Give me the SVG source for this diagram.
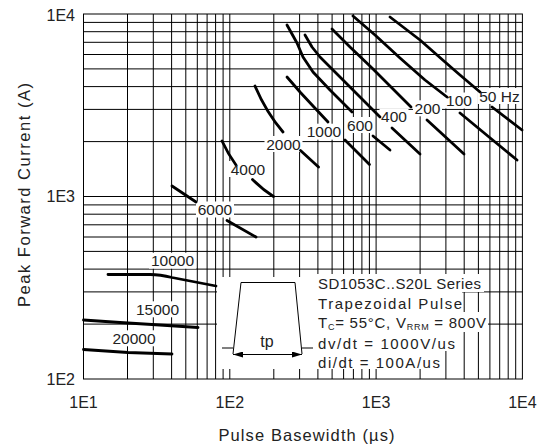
<svg xmlns="http://www.w3.org/2000/svg" width="548" height="448" viewBox="0 0 548 448">
<defs>
<style>
.grid{stroke:#000;stroke-width:1;fill:none}
.curve{stroke:#000;stroke-width:2.8;fill:none;stroke-linecap:round;stroke-linejoin:round}
.bg{fill:#fff;stroke:none}
.lbl{font-family:"Liberation Sans",Arial,sans-serif;font-size:15.5px;fill:#222;text-anchor:middle}
.tick{font-family:"Liberation Sans",Arial,sans-serif;font-size:16px;fill:#222}
.title{font-family:"Liberation Sans",Arial,sans-serif;font-size:16.5px;fill:#222;text-anchor:middle}
.note{font-family:"Liberation Sans",Arial,sans-serif;font-size:15px;fill:#222}
.thin{stroke:#000;stroke-width:1;fill:none}
</style>
<marker id="ah" viewBox="0 0 10 6" refX="10" refY="3" markerWidth="10" markerHeight="6" markerUnits="userSpaceOnUse" orient="auto-start-reverse">
<path d="M0,0 L10,3 L0,6 Z" fill="#000"/>
</marker>
</defs>
<rect x="0" y="0" width="548" height="448" fill="#fff"/>
<g id="grid" class="grid">
<path d="M127.5 14V379M153.3 14V379M171.6 14V379M185.8 14V379M197.3 14V379M207.1 14V379M215.6 14V379M223.1 14V379M229.8 14V379M273.8 14V379M299.6 14V379M317.9 14V379M332.1 14V379M343.6 14V379M353.4 14V379M361.9 14V379M369.4 14V379M376.1 14V379M420.1 14V379M445.9 14V379M464.2 14V379M478.4 14V379M489.9 14V379M499.7 14V379M508.2 14V379M515.7 14V379"/>
<path d="M83.5 324.1H522.4M83.5 291.9H522.4M83.5 269.1H522.4M83.5 251.4H522.4M83.5 237H522.4M83.5 224.8H522.4M83.5 214.2H522.4M83.5 204.9H522.4M83.5 196.5H522.4M83.5 141.6H522.4M83.5 109.4H522.4M83.5 86.6H522.4M83.5 68.9H522.4M83.5 54.5H522.4M83.5 42.3H522.4M83.5 31.7H522.4M83.5 22.4H522.4"/>
</g>
<g id="backgrounds" class="bg">
<rect x="477.5" y="88" width="44.5" height="16"/>
<rect x="444.5" y="92.5" width="29" height="16"/>
<rect x="413" y="100.3" width="29" height="16"/>
<rect x="379.5" y="108.7" width="29" height="16"/>
<rect x="345.5" y="117" width="29" height="16"/>
<rect x="305" y="123.7" width="38" height="16"/>
<rect x="264.5" y="136" width="38" height="16"/>
<rect x="229" y="161" width="38" height="16"/>
<rect x="196" y="201.5" width="38" height="16"/>
<rect x="149" y="252.7" width="47" height="16"/>
<rect x="134" y="301.3" width="47" height="16"/>
<rect x="110.5" y="330.3" width="47" height="16"/>
<rect x="217" y="277" width="100" height="92"/>
<rect x="316" y="274" width="168" height="18"/>
<rect x="316" y="292" width="146" height="20"/>
<rect x="316" y="312" width="172" height="20"/>
<rect x="316" y="332" width="141" height="19"/>
<rect x="316" y="351" width="126" height="18"/>
</g>
<rect id="frame" x="83.5" y="14" width="438.9" height="365" class="grid"/>
<g id="curves" class="curve">
<path id="c50" d="M390,17 L420,40 L445,62 L460,75 L480,92 M492,107 L522,130"/>
<path id="c100" d="M353,16 L375,35 L400,58 L425,80 L447,97 M460,113 L489,137 L517,160"/>
<path id="c200" d="M332,29 L350,47 L372,68 L392,88 L411,107 M427,120 L464,154"/>
<path id="c400" d="M305,35 L312,47 L320,57 L333,70 L353,90 L380,117 M392,128 L420,154"/>
<path id="c600" d="M287,25 L297,43 L303,57 L313,72 L330,90 L352,112 M373,136 L390,150"/>
<path id="c1000" d="M287,77 L300,92 L313,106 L328,122 M345,140 L369.5,164.5"/>
<path id="c2000" d="M255,86 Q266,112 283,132 M300.5,150.5 L318.5,167"/>
<path id="c4000" d="M222,141 Q228,154 236,165 M252.5,179.5 Q262,189 273.5,196.5"/>
<path id="c6000" d="M172,186 L196,202 M227,220.5 L256,237"/>
<path id="c10000" d="M108,274.5 L150,274.5 Q160,274.5 172,277.5 L216,286"/>
<path id="c15000" d="M83.5,320 L120,322.5 L152,324.5 L198,327.5"/>
<path id="c20000" d="M83.5,349.5 L128,352.5 L172,354"/>
</g>
<g id="curve-labels" class="lbl">
<text x="499.5" y="101.5">50 Hz</text>
<text x="459" y="106">100</text>
<text x="427.5" y="113.8">200</text>
<text x="394" y="122.2">400</text>
<text x="360" y="130.5">600</text>
<text x="324" y="137.2">1000</text>
<text x="283.5" y="149.5">2000</text>
<text x="248" y="174.5">4000</text>
<text x="215" y="215">6000</text>
<text x="172.5" y="266.2">10000</text>
<text x="157.5" y="314.8">15000</text>
<text x="134" y="343.8">20000</text>
</g>
<g id="pulse-inset">
<path class="thin" d="M233,354 L241,282.5 L295,282.5 L302,354"/>
<path class="thin" d="M222,348 H233 M302,348 H313"/>
<path class="thin" d="M233,354.5 H302" marker-start="url(#ah)" marker-end="url(#ah)"/>
<text x="267" y="347" class="note" style="font-size:16px" text-anchor="middle">tp</text>
</g>
<g id="notes" class="note">
<text x="318" y="288.5" textLength="163" lengthAdjust="spacing">SD1053C..S20L Series</text>
<text x="318" y="308.5" textLength="144" lengthAdjust="spacing">Trapezoidal Pulse</text>
<text x="318" y="328" textLength="168" lengthAdjust="spacing">T<tspan font-size="9" dy="2">C</tspan><tspan dy="-2">= 55°C, V</tspan><tspan font-size="9" dy="2">RRM</tspan><tspan dy="-2"> = 800V</tspan></text>
<text x="318" y="348.5" textLength="137" lengthAdjust="spacing">dv/dt = 1000V/us</text>
<text x="318" y="368" textLength="122" lengthAdjust="spacing">di/dt = 100A/us</text>
</g>
<g id="axis-labels">
<text class="tick" x="75" y="20.5" text-anchor="end">1E4</text>
<text class="tick" x="75" y="202" text-anchor="end">1E3</text>
<text class="tick" x="75" y="384.5" text-anchor="end">1E2</text>
<text class="tick" x="83.5" y="408" text-anchor="middle">1E1</text>
<text class="tick" x="229.8" y="408" text-anchor="middle">1E2</text>
<text class="tick" x="376.1" y="408" text-anchor="middle">1E3</text>
<text class="tick" x="522.4" y="408" text-anchor="middle">1E4</text>
<text class="title" x="306.5" y="441" textLength="176" lengthAdjust="spacing">Pulse Basewidth (µs)</text>
<text class="title" transform="translate(29.5,195) rotate(-90)" x="0" y="0" textLength="224" lengthAdjust="spacing">Peak Forward Current (A)</text>
</g>
</svg>
